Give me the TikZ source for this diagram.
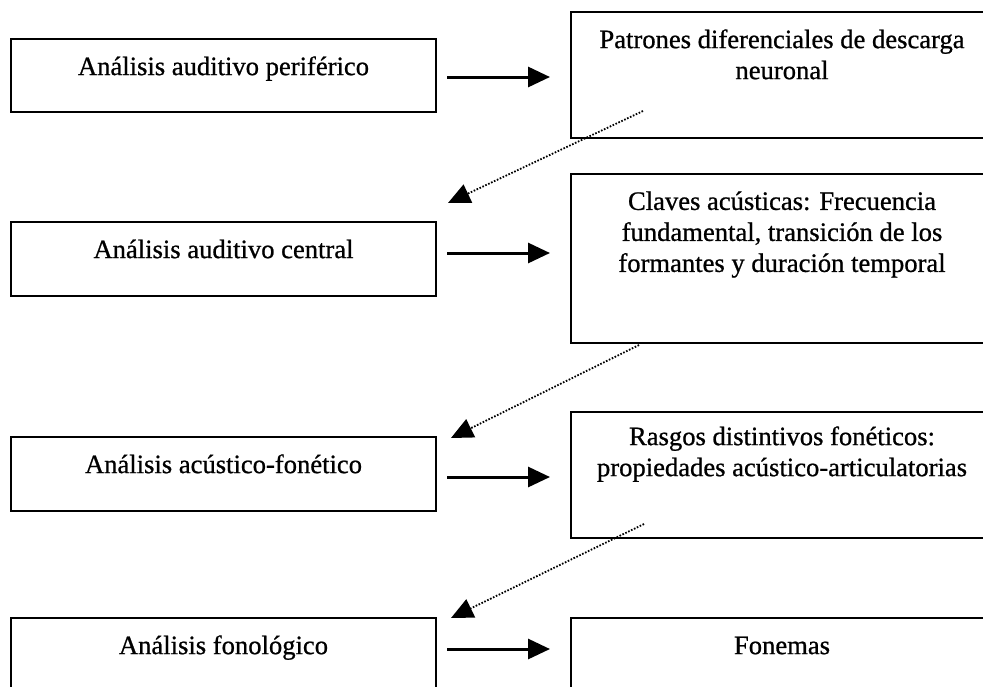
\documentclass[tikz,border=0pt]{standalone}
\usepackage{fontspec}
\setmainfont[FakeBold=0.8]{Liberation Serif}
\usetikzlibrary{arrows.meta,positioning}

\begin{document}
\begin{tikzpicture}[x=0.5pt, y=-0.5pt,
        caja/.style={draw, line width=1.3pt, anchor=north west, minimum width=212.5pt, inner sep=0pt, outer sep=0pt},
        cajader/.style={caja, minimum width=211pt},
        texto/.style={inner sep=0pt, align=center, font=\fontsize{13.3}{15.5}\selectfont, execute at begin node=\strut},
        flecha/.style={-{Triangle[length=11pt,width=10pt]}, line width=1.5pt, shorten <=5.5pt, shorten >=10.5pt},
        punteada/.style={-{Triangle[length=11pt,width=10pt]}, line width=0.9pt, dash pattern=on 0.8pt off 0.8pt}]
        \useasboundingbox (0,0) rectangle (983,686);
        \clip (0,0) rectangle (983,686);
        \node[caja, minimum height=36.5pt] (aper) at (11,39) {};
        \node[caja, minimum height=37pt] (acen) at (11,222) {};
        \node[caja, minimum height=37pt] (afon) at (11,437) {};
        \node[caja, minimum height=37pt] (afol) at (11,618) {};
        \node[cajader, minimum height=63pt] (pat) at (571,12) {};
        \node[cajader, minimum height=84.5pt] (cla) at (571,174) {};
        \node[cajader, minimum height=63pt] (ras) at (571,412) {};
        \node[cajader, minimum height=37pt] (fon) at (571,618) {};
        \node[texto, below=7pt of aper.north] (taper) {Análisis auditivo periférico};
        \node[texto, below=7pt of acen.north] (tacen) {Análisis auditivo central};
        \node[texto, below=7pt of afon.north] (tafon) {Análisis acústico-fonético};
        \node[texto, below=7pt of afol.north] (tafol) {Análisis fonológico};
        \node[texto, below=8.5pt of pat.north] (tpat) {Patrones diferenciales de descarga\\neuronal};
        \node[texto, below=8.5pt of cla.north] (tcla) {Claves acústicas: Frecuencia\\fundamental, transición de los\\formantes y duración temporal};
        \node[texto, below=7pt of ras.north] (tras) {Rasgos distintivos fonéticos:\\propiedades acústico-articulatorias};
        \node[texto, below=7pt of fon.north] (tfon) {Fonemas};
        \coordinate (h1) at (0,77);
        \coordinate (h2) at (0,253);
        \coordinate (h3) at (0,477);
        \coordinate (h4) at (0,649);
        \draw[flecha] (aper.east |- h1) -- (pat.west |- h1);
        \draw[flecha] (acen.east |- h2) -- (cla.west |- h2);
        \draw[flecha] (afon.east |- h3) -- (ras.west |- h3);
        \draw[flecha] (afol.east |- h4) -- (fon.west |- h4);
        \coordinate (d1) at (643,111);
        \coordinate (d1f) at (448,203);
        \coordinate (d2) at (639,345);
        \coordinate (d2f) at (451,438);
        \coordinate (d3) at (644,524);
        \coordinate (d3f) at (451,618);
        \draw[punteada] (d1) -- (d1f);
        \draw[punteada] (d2) -- (d2f);
        \draw[punteada] (d3) -- (d3f);
\end{tikzpicture}
\end{document}
